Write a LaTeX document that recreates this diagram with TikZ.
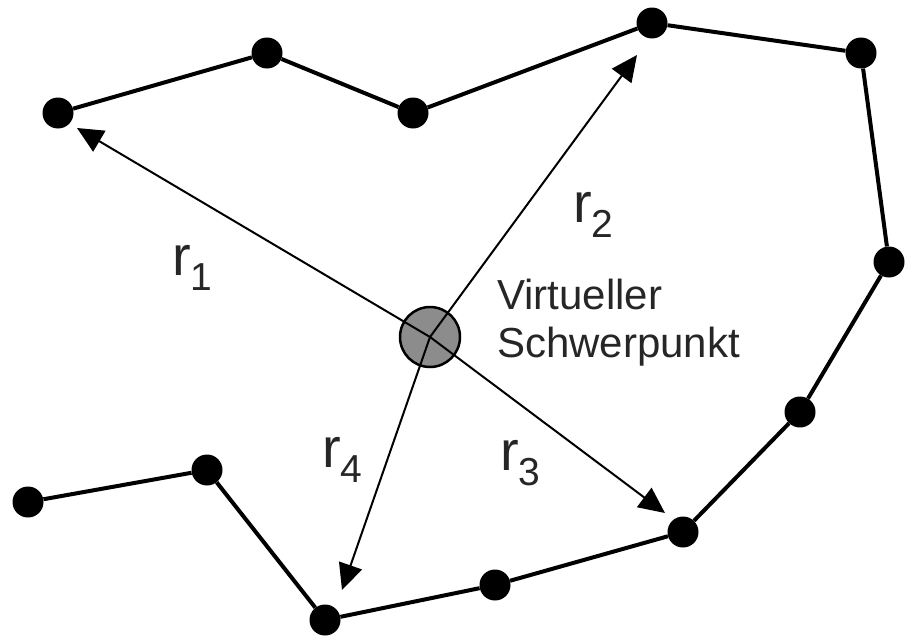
\documentclass[tikz,border=0pt]{standalone}
\usepackage{fontspec}
\setmainfont{Liberation Sans}
\usetikzlibrary{arrows.meta}

\newcommand{\rsub}[1]{{\fontsize{56}{60}\selectfont r}\raisebox{-15pt}{\fontsize{39}{40}\selectfont #1}}

\begin{document}
\begin{tikzpicture}[
    x=1pt, y=-1pt,
    dot/.style={circle, fill=black, inner sep=0pt, minimum size=31pt},
    edge/.style={line width=4pt},
    arr/.style={-{Triangle[length=26pt,width=24pt]}, line width=2pt},
    lbl/.style={inner sep=0pt, anchor=base west, text=black!85}
]
\useasboundingbox (0,0) rectangle (913,637);

% Punkte
\node[dot] (p1) at (58,113) {};
\node[dot] (p2) at (267,53) {};
\node[dot] (p3) at (413,113) {};
\node[dot] (p4) at (652,23) {};
\node[dot] (p5) at (861,53) {};
\node[dot] (p6) at (889,262) {};
\node[dot] (p7) at (800,412) {};
\node[dot] (p8) at (683,532) {};
\node[dot] (p9) at (495,585) {};
\node[dot] (p10) at (325,620) {};
\node[dot] (p11) at (207,470) {};
\node[dot] (p12) at (28,502) {};

\draw[edge] (p1) -- (p2) -- (p3) -- (p4) -- (p5) -- (p6) -- (p7)
    -- (p8) -- (p9) -- (p10) -- (p11) -- (p12);

% Schwerpunkt
\node[circle, draw=black, line width=2.5pt, fill=black!45, minimum size=60pt] (sp) at (430,337) {};

\coordinate (t1) at (77,128);
\coordinate (t2) at (637,55);
\coordinate (t3) at (665,513);
\coordinate (t4) at (342,590);

\draw[arr] (sp.center) -- (t1);
\draw[arr] (sp.center) -- (t2);
\draw[arr] (sp.center) -- (t3);
\draw[arr] (sp.center) -- (t4);

\node[lbl] (r1) at (172,275) {\rsub{1}};
\node[lbl] (r2) at (573,222) {\rsub{2}};
\node[lbl] (r3) at (500,470) {\rsub{3}};
\node[lbl] (r4) at (322,467) {\rsub{4}};

\node[inner sep=0pt, anchor=north west, align=left, text=black!85,
    font=\fontsize{42}{48}\selectfont] (txt) at (497,279) {Virtueller\\Schwerpunkt};
\end{tikzpicture}
\end{document}
